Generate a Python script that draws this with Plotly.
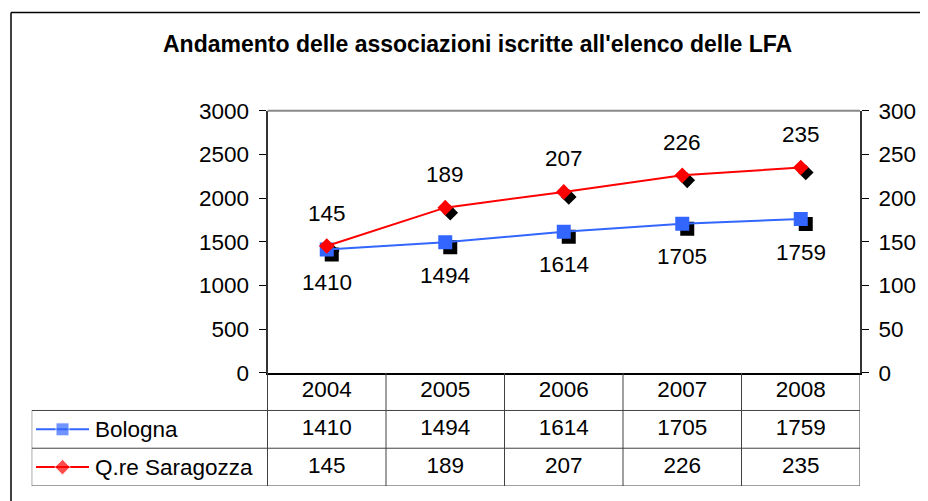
"""Andamento delle associazioni LFA - line chart with Excel-style data table."""

import plotly.graph_objects as go

# ---- data -------------------------------------------------------------
years = ["2004", "2005", "2006", "2007", "2008"]
bologna = [1410, 1494, 1614, 1705, 1759]
saragozza = [145, 189, 207, 226, 235]
series_names = ["Bologna", "Q.re Saragozza"]
title_text = "Andamento delle associazioni iscritte all'elenco delle LFA"

# ---- layout geometry (screen pixels, page has an 8px body margin) -----
W, H = 928, 501
OFF = 8
PX0, PX1 = 267.5, 860.0        # plot area left / right
PY0, PY1 = 110.7, 372.7        # plot area top / bottom
TAB_L, TAB_B = 31.7, 486.0     # table left edge, table bottom
SHADOW = 5                     # marker shadow offset, px

BLUE = "#3366FF"
RED = "#FF0000"
GRID = "#404040"
FONT = "Liberation Sans, Arial, sans-serif"
FS = 22.5

n = len(years)
idx = list(range(n))
unit = (PX1 - PX0) / n                      # px per category
plot_h = PY1 - PY0
tab_lo = -0.5 - (PX0 - TAB_L) / unit        # table axis left limit


def fx(px):
    return (px - OFF) / W


def fy(py):
    return (H - (py - OFF)) / H


def tx(px):
    """screen x -> table-axis units"""
    return tab_lo + (px - TAB_L) / unit


fig = go.Figure()

# shadows first, on the base subplot, so they sit under the coloured markers
fig.add_trace(go.Scatter(x=years, y=bologna, xaxis="x", yaxis="y", mode="markers",
                         marker=dict(symbol="square", size=14, color="black"),
                         hoverinfo="skip", showlegend=False))
fig.add_trace(go.Scatter(x=years, y=saragozza, xaxis="x", yaxis="y3", mode="markers",
                         marker=dict(symbol="diamond", size=12, color="black"),
                         hoverinfo="skip", showlegend=False))

fig.add_trace(go.Scatter(x=years, y=bologna, name=series_names[0], xaxis="x2", yaxis="y4",
                         mode="lines+markers", line=dict(color=BLUE, width=2),
                         marker=dict(symbol="square", size=14, color=BLUE),
                         showlegend=False))
fig.add_trace(go.Scatter(x=years, y=saragozza, name=series_names[1], xaxis="x2", yaxis="y5",
                         mode="lines+markers", line=dict(color=RED, width=2),
                         marker=dict(symbol="diamond", size=12, color=RED),
                         showlegend=False))

# data labels (category index used as x position)
annotations = []
for i, v in zip(idx, bologna):
    annotations.append(dict(x=i, y=v, xref="x2", yref="y4", text=str(v), showarrow=False,
                            yshift=-33, font=dict(size=FS, color="black")))
for i, v in zip(idx, saragozza):
    annotations.append(dict(x=i, y=v, xref="x2", yref="y5", text=str(v), showarrow=False,
                            yshift=33, font=dict(size=FS, color="black")))

# ---- data table -------------------------------------------------------
for row, vals in enumerate([years, bologna, saragozza]):
    fig.add_trace(go.Scatter(x=idx, y=[row + 0.5] * n, xaxis="x6", yaxis="y6", mode="text",
                             text=[str(v) for v in vals],
                             textfont=dict(size=FS, color="black"),
                             hoverinfo="skip", showlegend=False))

# legend keys inside the table
for row, (name, col, sym, sz) in enumerate(zip(series_names, [BLUE, RED],
                                               ["square", "diamond"], [13, 12])):
    yc = row + 1.5
    fig.add_trace(go.Scatter(x=[tx(36), tx(62.5), tx(89)], y=[yc] * 3, xaxis="x6", yaxis="y6",
                             mode="lines+markers", line=dict(color=col, width=2),
                             marker=dict(symbol=sym, size=[0, sz, 0], color=col),
                             hoverinfo="skip", showlegend=False))
    annotations.append(dict(x=tx(93), y=yc, xref="x6", yref="y6", text=name, showarrow=False,
                            xanchor="left", yanchor="middle", font=dict(size=FS, color="black")))

shapes = []
line = dict(color=GRID, width=1)
for r in (1, 2, 3):
    shapes.append(dict(type="line", xref="x6", yref="y6", x0=tab_lo, x1=n - 0.5,
                       y0=r, y1=r, line=line))
for c in range(n + 1):
    shapes.append(dict(type="line", xref="x6", yref="y6", x0=c - 0.5, x1=c - 0.5,
                       y0=0, y1=3, line=line))
shapes.append(dict(type="line", xref="x6", yref="y6", x0=tab_lo, x1=tab_lo,
                   y0=1, y1=3, line=line))

# top border of plot area (gray)
shapes.append(dict(type="line", xref="x domain", yref="y domain", x0=0, x1=1, y0=1, y1=1,
                   line=dict(color="#888888", width=2)))

# outer chart frame (top and left edges visible)
shapes.append(dict(type="line", xref="paper", yref="paper", x0=fx(11), x1=1.0,
                   y0=fy(12.5), y1=fy(12.5), line=dict(color="black", width=1.5)))
shapes.append(dict(type="line", xref="paper", yref="paper", x0=fx(11), x1=fx(11),
                   y0=0, y1=fy(12.5), line=dict(color="black", width=1.5)))

# title
annotations.append(dict(x=fx(477.5), y=fy(44), xref="paper", yref="paper",
                        xanchor="center", yanchor="middle",
                        text="<b>" + title_text + "</b>", showarrow=False,
                        font=dict(size=23, color="black")))

xdom = [fx(PX0), fx(PX1)]
ydom = [fy(PY1), fy(PY0)]
dx = SHADOW / unit
dy_l = SHADOW * 3000 / plot_h
dy_r = SHADOW * 300 / plot_h

hidden = dict(visible=False, automargin=False)
fig.update_layout(
    template="none",
    width=W, height=H,
    margin=dict(l=0, r=0, t=0, b=0, autoexpand=False),
    paper_bgcolor="white", plot_bgcolor="white",
    font=dict(family=FONT, size=FS, color="black"),
    showlegend=False,
    # base subplot: shifted, invisible, carries the shadows
    xaxis=dict(domain=xdom, type="category", range=[-0.5 - dx, n - 0.5 - dx],
               anchor="y", **hidden),
    yaxis=dict(domain=ydom, range=[dy_l, 3000 + dy_l], anchor="x", **hidden),
    yaxis3=dict(domain=ydom, range=[dy_r, 300 + dy_r], overlaying="y", anchor="x", **hidden),
    # visible axes
    xaxis2=dict(domain=xdom, type="category", range=[-0.5, n - 0.5], overlaying="x",
                showticklabels=False, ticks="", showgrid=False, zeroline=False,
                showline=True, linecolor="black", linewidth=2, anchor="y4",
                automargin=False),
    yaxis4=dict(domain=ydom, range=[0, 3000], dtick=500, overlaying="y", side="left",
                ticks="outside", ticklen=7, tickwidth=1, tickcolor="black", showgrid=False,
                zeroline=False, showline=True, linecolor="#333333", linewidth=2,
                anchor="x2", tickfont=dict(size=FS), ticklabelstandoff=5, automargin=False),
    yaxis5=dict(domain=ydom, range=[0, 300], dtick=50, overlaying="y", side="right",
                ticks="outside", ticklen=7, tickwidth=1, tickcolor="black", showgrid=False,
                zeroline=False, showline=True, linecolor="#333333", linewidth=2,
                anchor="x2", tickfont=dict(size=FS), ticklabelstandoff=5, automargin=False),
    # data table
    xaxis6=dict(domain=[fx(TAB_L), fx(PX1)], range=[tab_lo, n - 0.5], anchor="y6", **hidden),
    yaxis6=dict(domain=[fy(TAB_B), fy(PY1)], range=[3, 0], anchor="x6", **hidden),
    shapes=shapes,
    annotations=annotations,
)

fig.write_html("out.html")
